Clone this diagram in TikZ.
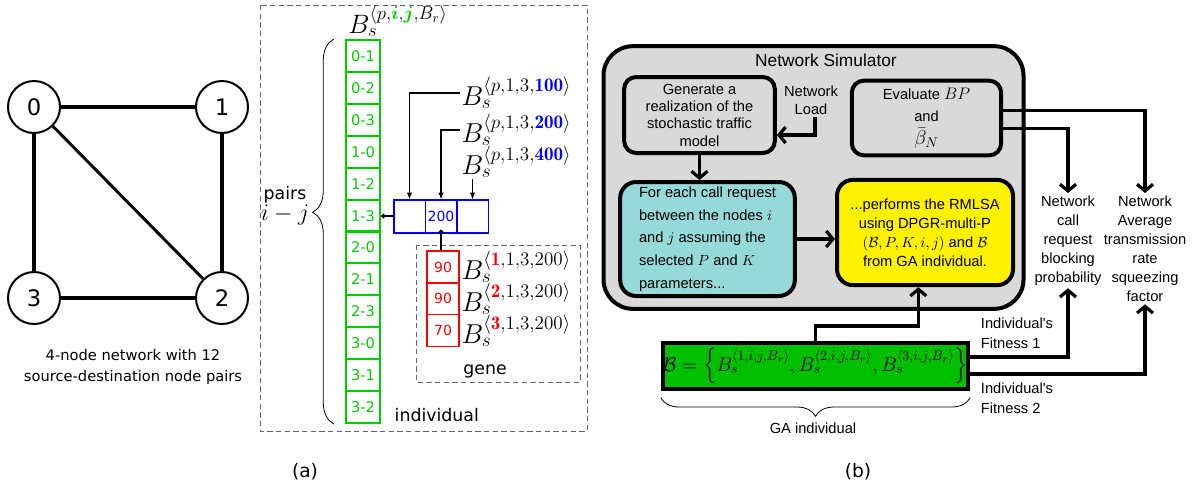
\RequirePackage{fix-cm}
\documentclass[tikz,border=0pt]{standalone}
\usepackage{amsmath,amssymb}
\usepackage{fontspec}
\newfontfamily\netfont{DejaVu Sans}
\newfontfamily\simfont{Liberation Sans}
\usepackage{tikz}
\usetikzlibrary{arrows.meta,positioning,calc,decorations.pathreplacing}

\definecolor{cellgreen}{RGB}{0,204,0}
\definecolor{gagreen}{RGB}{0,192,0}
\definecolor{simgray}{RGB}{217,217,217}
\definecolor{reqteal}{RGB}{150,217,217}

\begin{document}
\begin{tikzpicture}[x=0.75pt,y=-0.75pt,
    vertex/.style={circle, draw, line width=1.5pt, minimum size=39pt, inner sep=0pt, font=\netfont\fontsize{17}{19}\selectfont},
    link/.style={line width=3.2pt},
    gcell/.style={draw=cellgreen, line width=1.6pt, text=cellgreen, minimum width=25.5pt, minimum height=23.9pt, inner sep=0pt, font=\netfont\fontsize{11}{13}\selectfont},
    bcell/.style={draw=blue, line width=1pt, text=blue, minimum width=23.5pt, minimum height=24.7pt, inner sep=0pt, font=\netfont\fontsize{10.5}{12}\selectfont},
    rcell/.style={draw=red, line width=1pt, text=red, minimum width=24pt, minimum height=23.8pt, inner sep=0pt, font=\netfont\fontsize{10.5}{12}\selectfont},
    blab/.style={inner sep=1pt, anchor=west, font=\fontsize{20.5}{22}\selectfont},
    dashbox/.style={draw=black!60, dash pattern=on 4pt off 2.5pt, line width=0.7pt},
    pin/.style={-{Latex[length=5pt,width=4pt]}, line width=0.8pt},
    netlab/.style={align=center, font=\netfont\fontsize{13}{13.5}\selectfont},
    simbox/.style={draw, line width=3pt, rounded corners=9pt, align=center, font=\simfont\fontsize{11}{13}\selectfont},
    txt/.style={align=center, inner sep=2pt, font=\simfont\fontsize{11}{14.2}\selectfont},
    arr/.style={-{Straight Barb[length=5pt,width=12pt]}, line width=2.4pt}
]
\useasboundingbox (0,0) rectangle (1204,494);

% (a) network
\node[vertex] (n0) at (34,107) {0};
\node[vertex] (n1) at (222,107) {1};
\node[vertex] (n2) at (222,298) {2};
\node[vertex] (n3) at (34,298) {3};
\draw[link] (n0) -- (n1);
\draw[link] (n0) -- (n3);
\draw[link] (n1) -- (n2);
\draw[link] (n3) -- (n2);
\draw[line width=2.2pt] (n0) -- (n2);
\node[align=center, font=\netfont\fontsize{11}{15.5}\selectfont] (cap) at (133,367) {4-node network with 12\\source-destination node pairs};

% (a) chromosome
\draw[dashbox] (260,5) rectangle (587,431);
\draw[dashbox] (416,245) rectangle (580,382);
\node[font=\fontsize{20}{22}\selectfont] (hdr) at (398,21) {$B_s^{\langle p,\textcolor{cellgreen}{\boldsymbol{i}},\textcolor{cellgreen}{\boldsymbol{j}},B_r\rangle}$};
\node[gcell] (g1) at (363,56) {0-1};
\node[gcell] (g2) at (363,88) {0-2};
\node[gcell] (g3) at (363,120) {0-3};
\node[gcell] (g4) at (363,152) {1-0};
\node[gcell] (g5) at (363,184) {1-2};
\node[gcell] (g6) at (363,216) {1-3};
\node[gcell] (g7) at (363,247) {2-0};
\node[gcell] (g8) at (363,279) {2-1};
\node[gcell] (g9) at (363,311) {2-3};
\node[gcell] (g10) at (363,343) {3-0};
\node[gcell] (g11) at (363,375) {3-1};
\node[gcell] (g12) at (363,407) {3-2};
\draw[decorate, decoration={brace, amplitude=16pt, aspect=0.55}, line width=0.6pt]
    ([xshift=-8.25pt]g12.south west) -- ([xshift=-8.25pt]g1.north west);
\node[netlab] (pairs) at (285,206) {pairs\\{\fontsize{18}{14}\selectfont$i-j$}};
\node[netlab, anchor=west] (indiv) at (390,415) {individual};

\node[bcell] (b1) at (409.5,216.5) {};
\node[bcell] (b2) at (441,216.5) {200};
\node[bcell] (b3) at (472.5,216.5) {};
\node[blab] (l100) at (460,93) {$B_s^{\langle p,1,3,\textcolor{blue}{\mathbf{100}}\rangle}$};
\node[blab] (l200) at (460,130) {$B_s^{\langle p,1,3,\textcolor{blue}{\mathbf{200}}\rangle}$};
\node[blab] (l400) at (460,162) {$B_s^{\langle p,1,3,\textcolor{blue}{\mathbf{400}}\rangle}$};
\draw[pin] (l100.west) -| (b1.north);
\draw[pin] (l200.west) -| (b2.north);
\draw[pin] (l400.south -| b3.north) -- (b3.north);
\draw[pin, {Circle[length=3.5pt]}-] (g6.east) -- (g6.east -| b1.west);

\node[rcell] (r1) at (443,267) {90};
\node[rcell] (r2) at (443,298.7) {90};
\node[rcell] (r3) at (443,330.4) {70};
\draw[pin, {Circle[length=3.5pt]}-] ([yshift=3pt]b2.south) -- (b2.south |- r1.north);
\node[blab] (s1) at (460,267) {$B_s^{\langle\textcolor{red}{\mathbf{1}},1,3,200\rangle}$};
\node[blab] (s2) at (460,299) {$B_s^{\langle\textcolor{red}{\mathbf{2}},1,3,200\rangle}$};
\node[blab] (s3) at (460,331) {$B_s^{\langle\textcolor{red}{\mathbf{3}},1,3,200\rangle}$};
\node[netlab] (gene) at (485,371) {gene};
\node[font=\netfont\fontsize{14}{16}\selectfont] (capa) at (305,472) {(a)};

% (b) simulator
\node[draw, line width=3pt, fill=simgray, rounded corners=22pt, minimum width=315pt, minimum height=197pt] (sim) at (813.5,177.5) {};
\node[font=\simfont\fontsize{13}{15}\selectfont] (simtitle) at (826,60) {Network Simulator};
\node[simbox, fill=simgray, minimum width=113pt, minimum height=57pt] (gen) at (699.5,115) {Generate a\\realization of the\\stochastic traffic\\model};
\node[txt, font=\simfont\fontsize{11}{13.5}\selectfont] (load) at (811,100) {Network\\Load};
\node[simbox, fill=simgray, minimum width=112pt, minimum height=56pt, font=\simfont\fontsize{11}{17}\selectfont] (eval) at (926.5,118) {Evaluate {\fontsize{12.5}{17}\selectfont$BP$}\\and\\{\fontsize{15}{17}\selectfont$\bar{\beta}_N$}};
\node[simbox, fill=reqteal, align=left, rounded corners=12pt, minimum width=131pt, minimum height=85.5pt, font=\simfont\fontsize{11}{17}\selectfont] (req) at (707.5,239) {For each call request\\between the nodes $i$\\and $j$ assuming the\\selected $P$ and $K$\\parameters...};
\node[simbox, fill=yellow, rounded corners=12pt, minimum width=132pt, minimum height=79pt, font=\simfont\fontsize{11}{14.3}\selectfont] (rmlsa) at (925,232.5) {...performs the RMLSA\\using DPGR-multi-P\\$(\mathcal{B},P,K,i,j)$ and $\mathcal{B}$\\from GA individual.};
\node[draw, line width=3pt, fill=gagreen, minimum width=229pt, minimum height=34.5pt, inner sep=0pt, font=\fontsize{15}{17}\selectfont] (ga) at (815.5,366) {$\mathcal{B}=\Bigl\{B_s^{\langle 1,i,j,B_r\rangle},B_s^{\langle 2,i,j,B_r\rangle},B_s^{\langle 3,i,j,B_r\rangle}\Bigr\}$};
\draw[decorate, decoration={brace, mirror, amplitude=14pt}, line width=0.6pt]
    ([yshift=-5pt]ga.south west) -- ([yshift=-5pt]ga.south east);
\node[txt] (galab) at (813,428) {GA individual};

\node[txt, anchor=north] (block) at (1068,193) {Network\\call\\request\\blocking\\probability};
\node[txt, anchor=north] (rate) at (1145,193) {Network\\Average\\transmission\\rate\\squeezing\\factor};
\node[txt, align=left, anchor=west, font=\simfont\fontsize{11}{15}\selectfont] (fit1) at (978,333) {Individual's\\Fitness 1};
\node[txt, align=left, anchor=west, font=\simfont\fontsize{11}{15}\selectfont] (fit2) at (978,398) {Individual's\\Fitness 2};

\draw[arr] ([xshift=3pt]load.south) |- ([yshift=-15pt]gen.east);
\draw[arr] (gen.south) -- (gen.south |- req.north);
\draw[arr] (req.east) -- (req.east -| rmlsa.west);
\draw[arr] ([yshift=-7.9pt]eval.east) -| (block.north);
\draw[arr] ([yshift=5.6pt]eval.east) -| (rate.north);
\draw[arr] (ga.north) -- ++(0,-15) -| ([xshift=-5pt]rmlsa.south);
\draw[arr] ([yshift=6.75pt]ga.east) -| (block.south);
\draw[arr] ([yshift=-6pt]ga.east) -| (rate.south);
\node[font=\netfont\fontsize{14}{16}\selectfont] (capb) at (858,472) {(b)};
\end{tikzpicture}
\end{document}
